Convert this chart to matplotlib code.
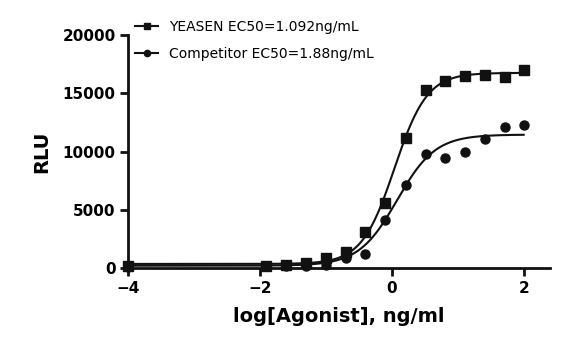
import numpy as np
import matplotlib.pyplot as plt

# log concentration (ng/ml)
log_conc = [-4.0, -1.9, -1.6, -1.3, -1.0, -0.7, -0.4, -0.1, 0.21, 0.52, 0.80, 1.11, 1.41, 1.71, 2.0]

yeasen_rlu = [150, 170, 250, 400, 830, 1400, 3100, 5550, 11130, 15280, 16080, 16480, 16570, 16370, 17000]
competitor_rlu = [100, 150, 150, 150, 250, 830, 1180, 4120, 7120, 9790, 9470, 9990, 11050, 12080, 12270]

# 4PL fit parameters: bottom, top, logEC50, hill slope
yeasen_fit = (350, 16750, 0.04, 1.75)
competitor_fit = (200, 11450, 0.08, 1.5)

labels = ["YEASEN EC50=1.092ng/mL", "Competitor EC50=1.88ng/mL"]


def four_pl(x, bottom, top, logec50, hill):
    return bottom + (top - bottom) / (1 + 10 ** ((logec50 - x) * hill))


fig = plt.figure(figsize=(5.7, 3.52), dpi=100)
ax = fig.add_axes([0.2246, 0.2386, 0.7404, 0.662])

xs = np.linspace(-4, 2, 400)
ink = "#111111"

ax.plot(xs, four_pl(xs, *yeasen_fit), color=ink, lw=1.5, clip_on=False)
ax.plot(xs, four_pl(xs, *competitor_fit), color=ink, lw=1.5, clip_on=False)
ax.plot(log_conc, yeasen_rlu, "s", color=ink, ms=7, clip_on=False, zorder=3)
ax.plot(log_conc, competitor_rlu, "o", color=ink, ms=6.5, clip_on=False, zorder=3)

# legend handles (line + marker)
h1, = ax.plot([], [], "-s", color=ink, lw=1.5, ms=4.5)
h2, = ax.plot([], [], "-o", color=ink, lw=1.5, ms=4.5)
fig.legend([h1, h2], labels, loc="upper left", bbox_to_anchor=(0.225, 0.962),
           frameon=False, prop={"family": "DejaVu Sans", "size": 10},
           handlelength=1.65, handletextpad=0.8, labelspacing=0.9, borderpad=0)

ax.set_xlim(-4, 2.4)
ax.set_ylim(0, 20000)
ax.set_xticks([-4, -2, 0, 2])
ax.set_yticks([0, 5000, 10000, 15000, 20000])

for s in ["top", "right"]:
    ax.spines[s].set_visible(False)
for s in ["left", "bottom"]:
    ax.spines[s].set_linewidth(2)
    ax.spines[s].set_color(ink)

ax.tick_params(width=2, length=6, color=ink, labelsize=11, pad=3)
for lab in ax.get_xticklabels() + ax.get_yticklabels():
    lab.set_fontweight("bold")

ax.set_xlabel("log[Agonist], ng/ml", fontsize=14, fontweight="bold", labelpad=8)
ax.set_ylabel("RLU", fontsize=14, fontweight="bold", labelpad=8)

fig.savefig("out.png", dpi=100)
